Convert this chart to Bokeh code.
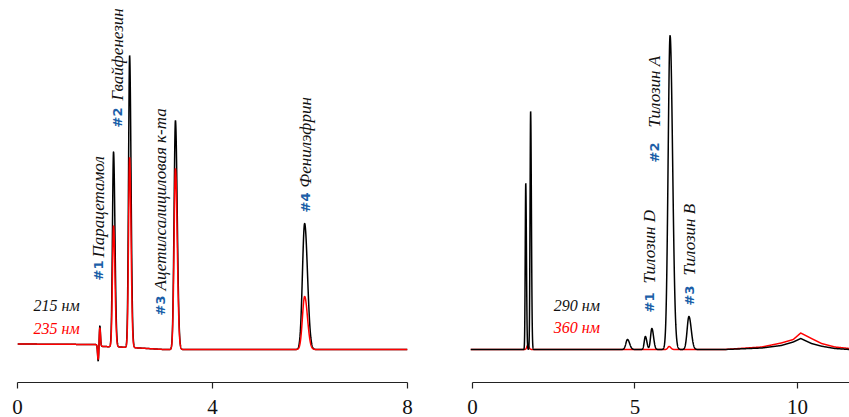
import numpy as np
from bokeh.plotting import figure
from bokeh.layouts import row
from bokeh.models import Label, FixedTicker, Range1d
from bokeh.embed import file_html
from bokeh.resources import INLINE

# ---------------- data ----------------
# Left chromatogram: black = 215 nm, red = 235 nm
left_rt = [1.97, 2.30, 3.24, 5.89]
left_h_215 = [195, 292, 229, 126]
left_h_235 = [121, 190, 181, 53]
left_sigma = [0.022, 0.022, 0.028, 0.045]
left_ids = ["#1", "#2", "#3", "#4"]
left_names = ["Парацетамол", "Гвайфенезин", "Ацетилсалициловая к-та", "Фенилэфрин"]
left_dist_rt = [1.655, 1.69]
left_dist_h = [-16, 20]
left_base_t = [0.0, 1.6, 1.75, 2.1, 2.5, 3.0, 8.0]
left_base_v = [5.5, 5.0, 3.0, 2.5, 1.5, 0.0, 0.0]
left_ticks = [0, 4, 8]
left_legend = ["215 нм", "235 нм"]

# Right chromatogram: black = 290 nm, red = 360 nm
right_rt_290 = [1.64, 1.79, 4.77, 5.32, 5.52, 6.08, 6.66]
right_h_290 = [166, 238, 10, 13, 21, 314, 33]
right_sigma_290 = [0.016, 0.018, 0.05, 0.035, 0.04, 0.06, 0.055]
right_rt_360 = [1.70, 6.05]
right_h_360 = [4, 3]
right_sigma_360 = [0.03, 0.04]
hump_t = [0.0, 7.75, 8.9, 9.5, 9.87, 10.1, 10.43, 10.74, 11.15, 11.6, 11.7]
hump_290 = [0, 0, 1.5, 4, 7.5, 11, 6, 3.3, 1, 0, 0]
hump_360 = [0, 0, 2.5, 6.5, 10, 16.5, 11, 6, 2.5, 1, 1]
right_ids = ["#1", "#2", "#3"]
right_names = ["Тилозин D", "Тилозин A", "Тилозин B"]
right_ticks = [0, 5, 10]
right_legend = ["290 нм", "360 нм"]

ID_COLOR = "#1c5fa8"
NAME_FONT = "Liberation Serif"


def trace(t, rts, hs, sigmas, tail=1.3):
    y = np.zeros_like(t)
    for rt, h, s in zip(rts, hs, sigmas):
        sig = np.where(t < rt, s, s * tail)
        y += h * np.exp(-0.5 * ((t - rt) / sig) ** 2)
    return y


def make_fig(width, bl, br, xr, bounds, ticks):
    p = figure(width=width, height=417, output_backend="svg", toolbar_location=None,
               x_range=xr, y_range=Range1d(-33, 349),
               min_border_left=bl, min_border_right=br, min_border_top=0, min_border_bottom=35)
    p.yaxis.visible = False
    p.grid.visible = False
    p.outline_line_color = None
    p.background_fill_color = "white"
    ax = p.xaxis[0]
    ax.ticker = FixedTicker(ticks=ticks)
    ax.bounds = bounds
    ax.minor_tick_line_color = None
    ax.major_tick_in = 0
    ax.major_tick_out = 6
    ax.axis_line_color = "#222222"
    ax.major_tick_line_color = "#222222"
    ax.axis_line_width = 1.2
    ax.major_tick_line_width = 1.2
    ax.major_label_text_font = NAME_FONT
    ax.major_label_text_font_size = "21px"
    ax.major_label_text_color = "#111111"
    ax.major_label_standoff = 11
    return p


def add_label(p, x, y_id, y_name, ident, name):
    p.add_layout(Label(x=x, y=y_id, text=ident, angle=np.pi / 2, text_align="left",
                       text_baseline="middle", text_color=ID_COLOR, text_font="DejaVu Sans",
                       text_font_style="bold", text_font_size="13px"))
    p.add_layout(Label(x=x, y=y_name, text=name, angle=np.pi / 2, text_align="left",
                       text_baseline="middle", text_color="#111111", text_font=NAME_FONT,
                       text_font_style="italic", text_font_size="17px"))


def add_legend(p, x, ys, texts):
    for y, txt, col in zip(ys, texts, ["#111111", "#ff0000"]):
        p.add_layout(Label(x=x, y=y, text=txt, text_align="left", text_baseline="middle",
                           text_color=col, text_font=NAME_FONT, text_font_style="italic",
                           text_font_size="16px"))


# ---------------- left panel ----------------
tl = np.linspace(0, 8, 6001)
base_l = np.interp(tl, left_base_t, left_base_v)
dist = trace(tl, left_dist_rt, left_dist_h, [0.012, 0.012], tail=1.0)
y215 = base_l + dist + trace(tl, left_rt, left_h_215, left_sigma)
y235 = base_l + dist * 0.9 + trace(tl, left_rt, left_h_235, left_sigma)

pl = make_fig(430, 17, 23, Range1d(0, 8), (0, 8), left_ticks)
pl.line(tl, y215, line_color="black", line_width=1.5)
pl.line(tl, y235, line_color="#ff0000", line_width=1.5)

left_lab = [(1.66, 69, 92), (2.045, 222, 249), (2.93, 34, 59), (5.91, 137, 162)]
for (x, yi, yn), ident, name in zip(left_lab, left_ids, left_names):
    add_label(pl, x, yi, yn, ident, name)
add_legend(pl, 0.33, [44, 21], left_legend)

# ---------------- right panel ----------------
tr = np.linspace(-0.06, 11.6, 8001)
y290 = np.interp(tr, hump_t, hump_290) + trace(tr, right_rt_290, right_h_290, right_sigma_290)
y360 = np.interp(tr, hump_t, hump_360) + trace(tr, right_rt_360, right_h_360, right_sigma_360)

pr = make_fig(419, 40, 0, Range1d(-0.06, 11.6), (0, 11.6), right_ticks)
pr.line(tr, y360, line_color="#ff0000", line_width=1.5)
pr.line(tr, y290, line_color="black", line_width=1.5)

right_lab = [(5.46, 37, 66), (5.59, 187, 222), (6.67, 44, 74)]
for (x, yi, yn), ident, name in zip(right_lab, right_ids, right_names):
    add_label(pr, x, yi, yn, ident, name)
add_legend(pr, 2.5, [44, 22], right_legend)

layout = row(pl, pr)
open("out.html", "w").write(file_html(layout, INLINE))
